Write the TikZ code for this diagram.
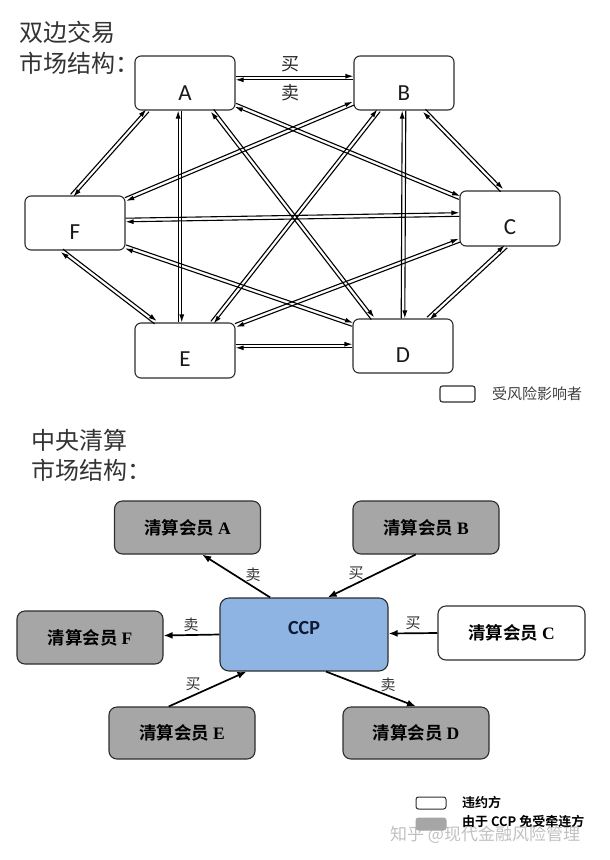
\documentclass[tikz,border=0pt]{standalone}
\usepackage{fontspec}
\setmainfont{Carlito}
\newfontfamily\cjk{Noto Sans CJK SC}[BoldFont={Noto Sans CJK SC Bold}]
\newfontfamily\serifb{Liberation Serif}
\usetikzlibrary{calc,arrows.meta}
\definecolor{ccpblue}{RGB}{141,180,226}
\definecolor{boxgray}{RGB}{166,166,166}
\definecolor{edgec}{RGB}{45,45,45}
\definecolor{ccptext}{RGB}{15,25,50}
\newcommand\twoway[2]{%
 \draw[pairline,-{Latex[length=8pt,width=5pt]}] ($(#1)!1.8pt!90:(#2)$) -- ($(#2)!1.8pt!-90:(#1)$);
 \draw[pairline,{Latex[length=8pt,width=5pt]}-] ($(#1)!1.8pt!-90:(#2)$) -- ($(#2)!1.8pt!90:(#1)$);}
\tikzset{
 box/.style={draw=edgec, line width=1.1pt, rounded corners=6pt, fill=white, minimum width=100pt, minimum height=54pt, inner sep=0pt},
 letter/.style={font=\fontsize{23}{23}\selectfont, text=black!90, inner sep=0pt},
 pairline/.style={line width=1.1pt, draw=black},
 title/.style={font=\cjk\fontsize{24}{24}\selectfont, text=black!80, anchor=west, inner sep=0pt},
 tlabel/.style={font=\cjk\fontsize{18}{18}\selectfont, text=black!85, inner sep=0pt},
 member/.style={draw=edgec, line width=1.1pt, rounded corners=8pt, fill=boxgray, minimum width=146pt, minimum height=53pt, inner sep=0pt, font=\cjk\bfseries\fontsize{17.5}{17.5}\selectfont},
 blabel/.style={font=\cjk\fontsize{15}{15}\selectfont, text=black!80, inner sep=0pt},
 bigarrow/.style={line width=1.7pt, draw=black, -{Latex[length=9pt,width=7pt]}},
 legtext/.style={font=\cjk\bfseries\fontsize{13}{13}\selectfont, anchor=west, inner sep=0pt}
}
\begin{document}
\begin{tikzpicture}[x=1pt,y=-1pt]
\useasboundingbox (0,0) rectangle (610,860);
% ---------- top: bilateral ----------
\node[title] (t1) at (19,32) {双边交易};
\node[title] (t2) at (19,63) {市场结构：};

\node[box] (A) at (185,83) {};
\node[box] (B) at (404,83) {};
\node[box] (F) at (75,223) {};
\node[box, minimum height=55pt] (C) at (510,218.5) {};
\node[box, minimum height=55pt] (E) at (185,350.5) {};
\node[box] (D) at (403,346) {};

\node[letter] (At) at ($(A.center)+(0,10)$) {A};
\node[letter] (Bt) at ($(B.center)+(0,10)$) {B};
\node[letter] (Ft) at ($(F.center)+(0,9)$) {F};
\node[letter] (Ct) at ($(C.center)+(0,9)$) {C};
\node[letter] (Et) at ($(E.center)+(0,9)$) {E};
\node[letter] (Dt) at ($(D.center)+(0,9)$) {D};

% endpoints
\coordinate (aB) at ($(A.east)+(0,-5)$);
\coordinate (aF) at ($(A.south west)!0.13!(A.south east)$);
\coordinate (aE) at ($(A.south west)!0.45!(A.south east)$);
\coordinate (aD) at ($(A.south west)!0.77!(A.south east)$);
\coordinate (aC) at ($(A.south east)!0.1!(A.north east)$);
\coordinate (bA) at ($(B.west)+(0,-5)$);
\coordinate (bF) at ($(B.south west)!0.13!(B.north west)$);
\coordinate (bE) at ($(B.south west)!0.25!(B.south east)$);
\coordinate (bD) at (B.south);
\coordinate (bC) at ($(B.south west)!0.7!(B.south east)$);
\coordinate (fA) at ($(F.north west)!0.47!(F.north east)$);
\coordinate (fB) at ($(F.north east)!0.07!(F.south east)$);
\coordinate (fC) at ($(F.east)+(0,-3)$);
\coordinate (fD) at ($(F.south east)!0.07!(F.north east)$);
\coordinate (fE) at ($(F.south west)!0.37!(F.south east)$);
\coordinate (cA) at ($(C.north west)!0.13!(C.south west)$);
\coordinate (cB) at ($(C.north west)!0.42!(C.north east)$);
\coordinate (cF) at ($(C.west)+(0,-4)$);
\coordinate (cE) at ($(C.south west)!0.11!(C.north west)$);
\coordinate (cD) at ($(C.south west)!0.46!(C.south east)$);
\coordinate (eF) at ($(E.north west)!0.21!(E.north east)$);
\coordinate (eA) at ($(E.north west)!0.45!(E.north east)$);
\coordinate (eB) at ($(E.north west)!0.77!(E.north east)$);
\coordinate (eC) at ($(E.north east)!0.05!(E.south east)$);
\coordinate (eD) at ($(E.east)+(0,-4.5)$);
\coordinate (dF) at ($(D.north west)!0.11!(D.south west)$);
\coordinate (dA) at ($(D.north west)!0.2!(D.north east)$);
\coordinate (dB) at (D.north);
\coordinate (dC) at ($(D.north west)!0.75!(D.north east)$);
\coordinate (dE) at (D.west);

\twoway{aB}{bA}
\twoway{aF}{fA}
\twoway{aE}{eA}
\twoway{aD}{dA}
\twoway{aC}{cA}
\twoway{bF}{fB}
\twoway{bE}{eB}
\twoway{bD}{dB}
\twoway{bC}{cB}
\twoway{fC}{cF}
\twoway{fD}{dF}
\twoway{fE}{eF}
\twoway{cE}{eC}
\twoway{cD}{dC}
\twoway{dE}{eD}

\node[tlabel] (buy1) at (290,64) {买};
\node[tlabel] (sell1) at (290,93) {卖};

% legend top
\node[box, minimum width=35pt, minimum height=16pt, rounded corners=2.5pt] (leg1) at (457.5,394) {};
\node[font=\cjk\fontsize{15}{15}\selectfont, text=black!75, anchor=west, inner sep=0pt] (leg1t) at (492,394) {受风险影响者};

% ---------- bottom: central clearing ----------
\node[title] (t3) at (31,440) {中央清算};
\node[title] (t4) at (31,470) {市场结构：};

\node[member] (MA) at (187.5,527.5) {清算会员 {\serifb\bfseries A}};
\node[member] (MB) at (426,527.5) {清算会员 {\serifb\bfseries B}};
\node[member] (MF) at (90,637.5) {清算会员 {\serifb\bfseries F}};
\node[member, fill=white, minimum width=147pt, minimum height=54pt] (MC) at (511.5,633) {清算会员 {\serifb\bfseries C}};
\node[member, minimum height=52pt] (ME) at (182,733) {清算会员 {\serifb\bfseries E}};
\node[member, minimum height=52pt] (MD) at (416,733) {清算会员 {\serifb\bfseries D}};
\node[draw=edgec, line width=1.1pt, rounded corners=9pt, fill=ccpblue, minimum width=168pt, minimum height=73pt, inner sep=0pt] (CCP) at (304,634.5) {};
\node[font=\bfseries\fontsize{20}{20}\selectfont, text=ccptext, inner sep=0pt] (CCPt) at ($(CCP.center)+(0,-6)$) {CCP};

\draw[bigarrow] ($(CCP.north west)!0.3!(CCP.north east)$) -- ($(MA.south west)!0.6!(MA.south east)$);
\draw[bigarrow] ($(MB.south west)!0.43!(MB.south east)$) -- ($(CCP.north west)!0.64!(CCP.north east)$);
\draw[bigarrow] (CCP.west) -- ($(MF.east)+(0,-2)$);
\draw[bigarrow] (MC.west) -- ($(CCP.east)+(0,-1)$);
\draw[bigarrow] ($(ME.north west)!0.41!(ME.north east)$) -- ($(CCP.south west)!0.16!(CCP.south east)$);
\draw[bigarrow] ($(CCP.south west)!0.63!(CCP.south east)$) -- ($(MD.north west)!0.5!(MD.north east)$);

\node[blabel] (l1) at (253,575) {卖};
\node[blabel] (l2) at (356,573) {买};
\node[blabel] (l3) at (191,625) {卖};
\node[blabel] (l4) at (413,623) {买};
\node[blabel] (l5) at (193,684) {买};
\node[blabel] (l6) at (388,685) {卖};

% legend bottom
\node[draw=edgec, line width=1pt, rounded corners=2.5pt, fill=white, minimum width=30pt, minimum height=12pt, inner sep=0pt] (leg2) at (431,803) {};
\node[legtext] (leg2t) at (462,802) {违约方};
\node[draw=boxgray, line width=1pt, rounded corners=2.5pt, fill=boxgray, minimum width=30pt, minimum height=12pt, inner sep=0pt] (leg3) at (431,824) {};
\node[legtext] (leg3t) at (462,822) {由于 CCP 免受牵连方};
\node[font=\cjk\fontsize{17}{17}\selectfont, text=black!35, opacity=0.7, anchor=west, inner sep=0pt] (wm) at (390,835) {知乎 @现代金融风险管理};
\end{tikzpicture}
\end{document}
